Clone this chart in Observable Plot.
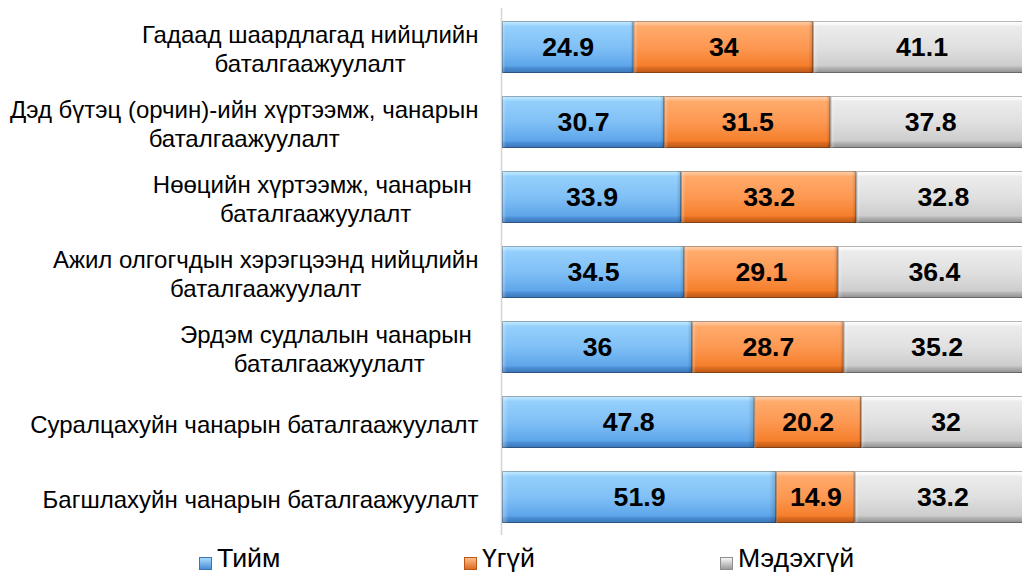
<!DOCTYPE html>
<html>
<head>
<meta charset="utf-8">
<script src="https://cdn.jsdelivr.net/npm/d3@7"></script>
<script src="https://cdn.jsdelivr.net/npm/@observablehq/plot@0.6"></script>
<style>
  html, body { margin: 0; padding: 0; background: #fff; overflow: hidden; width: 1022px; height: 574px; }
  #chart { position: relative; width: 1022px; height: 540px; }
  #legend { position: relative; width: 1022px; height: 34px; font-family: "Liberation Sans", Arial, sans-serif; font-size: 26.7px; color: #000; }
  .sw { position: absolute; top: 17px; width: 13px; height: 13px; box-sizing: border-box; }
  .lt { position: absolute; top: 5px; line-height: 1; white-space: nowrap; }
</style>
</head>
<body>
<div id="chart"></div>
<div id="legend"></div>
<script>
// ---- data ----
const categories = [
  "Гадаад шаардлагад нийцлийн\nбаталгаажуулалт",
  "Дэд бүтэц (орчин)-ийн хүртээмж, чанарын\nбаталгаажуулалт",
  "Нөөцийн хүртээмж, чанарын \nбаталгаажуулалт",
  "Ажил олгогчдын хэрэгцээнд нийцлийн\nбаталгаажуулалт",
  "Эрдэм судлалын чанарын \nбаталгаажуулалт",
  "Суралцахуйн чанарын баталгаажуулалт",
  "Багшлахуйн чанарын баталгаажуулалт"
];
const series = ["Тийм", "Үгүй", "Мэдэхгүй"];
const yesValues = [24.9, 30.7, 33.9, 34.5, 36, 47.8, 51.9];
const noValues = [34, 31.5, 33.2, 29.1, 28.7, 20.2, 14.9];
const dkValues = [41.1, 37.8, 32.8, 36.4, 35.2, 32, 33.2];

const seriesValues = [yesValues, noValues, dkValues];
const data = categories.flatMap((cat, i) =>
  series.map((s, j) => ({cat, series: s, value: seriesValues[j][i]}))
);

const FONT = "'Liberation Sans', Arial, sans-serif";
const labelSize = 24;
const canvas = document.createElement("canvas");
const ctx = canvas.getContext("2d");
ctx.font = `${labelSize}px 'Liberation Sans'`;
const labelGap = 24;

const labelMarks = categories.map(cat => {
  const w = d3.max(cat.split("\n"), l => ctx.measureText(l).width);
  return Plot.text([cat], {
    x: () => 0, y: d => d, text: d => d,
    textAnchor: "middle", lineAnchor: "middle", lineHeight: 1.18,
    dx: -(labelGap + w / 2), dy: 1, fontSize: labelSize, fill: "#000"
  });
});

const plot = Plot.plot({
  width: 1022,
  height: 540,
  marginTop: 8,
  marginBottom: 5,
  marginLeft: 0,
  marginRight: 0,
  style: {fontFamily: FONT, background: "white", overflow: "hidden"},
  x: {domain: [0, 100], range: [502, 1030], axis: null},
  y: {domain: categories, range: [-2.25, 546], padding: 0.31, axis: null},
  color: {domain: series, range: ["url(#gBlue)", "url(#gOrange)", "url(#gGray)"]},
  marks: [
    Plot.ruleX([0], {stroke: "#d4d4d4", strokeWidth: 1.5, dx: -1}),
    Plot.barX(data, {x: "value", y: "cat", fill: "series", order: null}),
    Plot.barX(data, {x: "value", y: "cat", z: "series", order: null, fill: "url(#gBevel)"}),
    Plot.barX(data, {x: "value", y: "cat", z: "series", order: null, fill: "none", stroke: "rgba(0,0,0,0.28)", strokeWidth: 1, inset: 0.5}),
    Plot.text(data, Plot.stackX({x: "value", y: "cat", z: "series", order: null,
      text: d => String(d.value), fontWeight: "bold", fontSize: 26.7, fill: "#000"})),
    ...labelMarks
  ]
});

// gradient definitions
const defs = d3.select(plot).insert("defs", ":first-child");
function vgrad(id, stops) {
  const g = defs.append("linearGradient").attr("id", id)
    .attr("x1", 0).attr("y1", 0).attr("x2", 0).attr("y2", 1);
  stops.forEach(([o, c]) => g.append("stop").attr("offset", o).attr("stop-color", c));
}
vgrad("gBlue", [[0, "#c8ecff"], [0.07, "#a8dcff"], [0.1, "#95d0fc"], [0.5, "#80c0f6"], [0.86, "#5ea6ea"], [0.9, "#4a8ed6"], [1, "#3b74b4"]]);
vgrad("gOrange", [[0, "#ffd0ac"], [0.07, "#ffbc8a"], [0.1, "#ffab6c"], [0.5, "#fd9852"], [0.86, "#f57f2c"], [0.9, "#dd6c20"], [1, "#b85818"]]);
vgrad("gGray", [[0, "#ffffff"], [0.07, "#f7f7f7"], [0.1, "#ececec"], [0.5, "#e0e0e0"], [0.86, "#cdcdcd"], [0.9, "#b4b4b4"], [1, "#8e8e8e"]]);
const gb = defs.append("linearGradient").attr("id", "gBevel").attr("x1", 0).attr("y1", 0).attr("x2", 1).attr("y2", 0);
[[0, [255,255,255], 0.35], [0.025, [255,255,255], 0], [0.975, [0,0,0], 0], [1, [0,0,0], 0.18]]
  .forEach(([o, c, a]) => gb.append("stop").attr("offset", o).attr("stop-color", `rgb(${c.join(",")})`).attr("stop-opacity", a));

document.getElementById("chart").appendChild(plot);

// legend
const swatchLeft = [199, 464, 720];
const textLeft = [217, 482, 738];
const swatch = [
  "linear-gradient(#a8dcff, #4a8ed6)",
  "linear-gradient(#ffbc8a, #dd6c20)",
  "linear-gradient(#f7f7f7, #9a9a9a)"
];
const swBorder = ["#3b74b4", "#b85818", "#8e8e8e"];
const legend = d3.select("#legend");
series.forEach((s, i) => {
  legend.append("div").attr("class", "sw").style("left", swatchLeft[i] + "px")
    .style("background", swatch[i]).style("border", `1px solid ${swBorder[i]}`);
  legend.append("span").attr("class", "lt").style("left", textLeft[i] + "px").text(s);
});
</script>
</body>
</html>
